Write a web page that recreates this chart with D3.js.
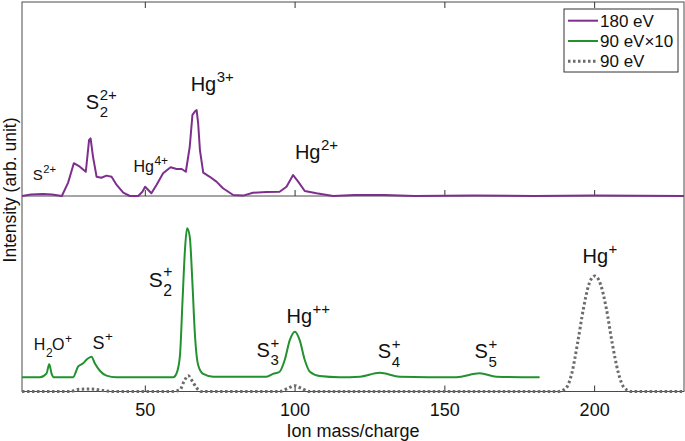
<!DOCTYPE html>
<html>
<head>
<meta charset="utf-8">
<script src="https://cdn.jsdelivr.net/npm/d3@7"></script>
<style>
  body { margin: 0; background: #fff; }
  svg text { font-family: "Liberation Sans", Arial, Helvetica, sans-serif; fill: #111; }
</style>
</head>
<body>
<script>
// 180 eV spectrum (upper panel)
var massTop = [9, 12, 16, 19, 22.3, 24.4, 26.3, 28.3, 30.3, 31.4, 31.9, 32.7, 33.9, 35.5, 37.2, 38.9, 40.6, 42.8, 45, 47.8,
  49.2, 50.1, 52.2, 53.9, 56.1, 58.6, 60.6, 62.3, 63.7, 65, 65.9, 66.7, 67.3, 67.8, 68.4, 69.5, 71.7, 73.9, 76.1, 79.5,
  82.8, 86.1, 90.6, 95, 97.3, 99.5, 101.2, 103.4, 107.3, 112.9, 120, 130, 140, 160, 180, 200, 230];
var int180 = [0, 0.8, 1.0, 0.8, 0, 6.9, 16.9, 15.1, 12.5, 28.9, 29.7, 20.3, 9.9, 9.4, 10.5, 9.9, 5.7, 1.7, 0, 0,
  2.2, 4.8, 1.4, 5.7, 11.7, 14.8, 13.9, 13.9, 12.5, 25.4, 41.8, 43.5, 44.3, 37.6, 23.7, 12.0, 9.9, 7.4, 4.0, 0.5,
  0.2, 1.7, 2.1, 2.2, 4.8, 10.8, 7.4, 2.6, 1.4, 0, 0.5, 0.5, 0, 0.2, 0, 0.2, 0];

// 90 eV x10 spectrum (lower panel, shown with an offset)
var massGreen = [9, 15, 17.2, 18.1, 18.9, 19.6, 26.1, 27, 27.7, 29.4, 30.7, 32.2, 33.3, 35, 37.2, 40.5, 59.5, 60.6, 61.7, 62.6,
  63.4, 64.1, 65, 65.9, 66.7, 67.8, 69.5, 72.8, 90.6, 92.8, 95, 96.7, 98.4, 100.1, 101.7, 103.4, 105.1, 108.4, 115, 121.8,
  128.4, 135.1, 154, 161.8, 167.4, 181.8];
var int90x10 = [7.3, 7.3, 9.3, 13.9, 9.0, 7.3, 7.3, 10.1, 12.7, 14.4, 16.5, 17.8, 14.4, 10.6, 8.1, 7.3, 7.3, 9.3, 17.8, 46.8,
  72.4, 83.5, 79.2, 55.3, 29.8, 13.6, 9.0, 7.6, 7.6, 9.0, 10.1, 16.1, 26.3, 30.6, 26.3, 16.1, 10.1, 7.9, 7.3, 7.6,
  9.6, 7.6, 7.3, 9.3, 7.6, 7.3];

// 90 eV spectrum (lower panel)
var massGray = [9, 25, 28, 32, 36, 40, 59, 61.7, 63, 64.5, 66, 67.3, 69, 95, 98, 100, 102, 105, 188, 190.5,
  192.5, 194.5, 196.5, 198.3, 200.2, 202.1, 204, 206, 208, 210, 212.5, 230];
var int90 = [0, 0, 1.1, 1.3, 0.5, 0, 0, 0.8, 4.9, 8.1, 4.9, 1.8, 0, 0, 1.8, 3.0, 1.8, 0, 0, 1.5,
  9, 25, 43, 55, 59.1, 55, 43, 25, 10, 2, 0, 0];

var xTicks = [50, 100, 150, 200];
var legendNames = ["180 eV", "90 eV\u00d710", "90 eV"];

// peak labels: TeX-like text anchored at (mass, intensity)
var topLabels = [
  { m: 12.6, v: 8.2, tex: "S^{2+}", size: 15 },
  { m: 30.3, v: 44.8, tex: "S_2^{2+}", size: 20 },
  { m: 46.2, v: 12.5, tex: "Hg^{4+}", size: 16 },
  { m: 65.3, v: 54.3, tex: "Hg^{3+}", size: 20 },
  { m: 100.1, v: 18.9, tex: "Hg^{2+}", size: 20 }
];
var bottomLabels = [
  { m: 12.95, v: 21.2, tex: "H_2O^+", size: 16 },
  { m: 32.5, v: 21.6, tex: "S^+", size: 18 },
  { m: 51.3, v: 53.6, tex: "S_2^+", size: 21 },
  { m: 87.3, v: 17.8, tex: "S_3^+", size: 20 },
  { m: 97.3, v: 34.9, tex: "Hg^{++}", size: 20 },
  { m: 127.8, v: 17.0, tex: "S_4^+", size: 20 },
  { m: 160.1, v: 17.0, tex: "S_5^+", size: 20 },
  { m: 196.1, v: 65.9, tex: "Hg^+", size: 20 }
];

var width = 685, height = 441;
var padL = 22, padR = 684, padT = 2, midY = 196, padB = 391.5;

var svg = d3.select("body").append("svg").attr("width", width).attr("height", height);

var x = d3.scaleLinear().domain([9, 230]).range([padL, padR]);
var yTop = d3.scaleLinear().domain([0, 100]).range([midY, padT]);
var yBot = d3.scaleLinear().domain([0, 100]).range([padB, midY]);

svg.append("clipPath").attr("id", "clip").append("rect")
  .attr("x", padL).attr("y", padT).attr("width", padR - padL).attr("height", padB - padT + 2);

// frame
svg.append("rect").attr("x", padL).attr("y", padT).attr("width", padR - padL).attr("height", padB - padT)
  .attr("fill", "none").attr("stroke", "#4a4a4a").attr("stroke-width", 1);
svg.append("line").attr("x1", padL).attr("x2", padR).attr("y1", midY).attr("y2", midY)
  .attr("stroke", "#4a4a4a").attr("stroke-width", 1);

function tickStyle(g) {
  g.select(".domain").remove();
  g.selectAll(".tick line").attr("stroke", "#333");
  g.selectAll(".tick text").attr("font-size", 18).attr("fill", "#111")
    .attr("font-family", "Liberation Sans, Arial, sans-serif");
}

svg.append("g").attr("transform", "translate(0," + padB + ")")
  .call(d3.axisBottom(x).tickValues(xTicks).tickSize(-6).tickPadding(12).tickFormat(d3.format("d")))
  .call(tickStyle);
svg.append("g").attr("transform", "translate(0," + midY + ")")
  .call(d3.axisBottom(x).tickValues(xTicks).tickSize(-6).tickFormat(""))
  .call(tickStyle);
svg.append("g").attr("transform", "translate(0," + padT + ")")
  .call(d3.axisTop(x).tickValues(xTicks).tickSize(-6).tickFormat(""))
  .call(tickStyle);

// axis titles
svg.append("text").attr("x", (padL + padR) / 2).attr("y", 437).attr("text-anchor", "middle")
  .attr("font-size", 18).text("Ion mass/charge");
svg.append("text").attr("transform", "translate(15.5,190) rotate(-90)").attr("text-anchor", "middle")
  .attr("font-size", 17.5).text("Intensity (arb. unit)");

// spectra
var plot = svg.append("g").attr("clip-path", "url(#clip)");

function series(ms, vs) {
  return ms.map(function (m, i) { return { m: m, v: vs[i] }; });
}

var lineTop = d3.line().x(function (d) { return x(d.m); }).y(function (d) { return yTop(d.v); });
var lineBot = d3.line().curve(d3.curveMonotoneX)
  .x(function (d) { return x(d.m); }).y(function (d) { return yBot(d.v); });

plot.append("path").datum(series(massGray, int90)).attr("d", lineBot)
  .attr("fill", "none").attr("stroke", "#6b6b6b").attr("stroke-width", 3).attr("stroke-dasharray", "2.5,2.5");
plot.append("path").datum(series(massGreen, int90x10)).attr("d", lineBot)
  .attr("fill", "none").attr("stroke", "#23912f").attr("stroke-width", 2).attr("stroke-linejoin", "round");
plot.append("path").datum(series(massTop, int180)).attr("d", lineTop)
  .attr("fill", "none").attr("stroke", "#7e2f8e").attr("stroke-width", 2).attr("stroke-linejoin", "round");

// tiny TeX-ish parser for labels like S_2^{2+}
function parseTex(s) {
  var tokens = [], i = 0;
  while (i < s.length) {
    var c = s[i];
    if (c === "_" || c === "^") {
      var t;
      if (s[i + 1] === "{") {
        var j = s.indexOf("}", i);
        t = s.slice(i + 2, j);
        i = j + 1;
      } else {
        t = s[i + 1];
        i += 2;
      }
      tokens.push({ t: t, k: c === "_" ? "sub" : "sup" });
    } else {
      var k = i;
      while (k < s.length && s[k] !== "_" && s[k] !== "^") k++;
      tokens.push({ t: s.slice(i, k), k: "n" });
      i = k;
    }
  }
  return tokens;
}

function drawLabel(d, yScale) {
  var g = svg.append("g");
  var cx = x(d.m), by = yScale(d.v);
  var prev = null;
  parseTex(d.tex).forEach(function (tk) {
    var small = d.size * 0.75;
    if (tk.k === "n") {
      var t = g.append("text").attr("x", cx).attr("y", by).attr("font-size", d.size).text(tk.t);
      cx += t.node().getComputedTextLength();
      prev = null;
    } else {
      var dy = tk.k === "sub" ? d.size * 0.42 : -d.size * 0.45;
      var sx = cx;
      if (prev && prev.k !== tk.k) sx = prev.x;
      var s = g.append("text").attr("x", sx + 0.5).attr("y", by + dy).attr("font-size", small).text(tk.t);
      var w = s.node().getComputedTextLength();
      if (prev && prev.k !== tk.k) {
        cx = prev.x + Math.max(prev.w, w);
        prev = null;
      } else {
        cx = sx + w;
        prev = { k: tk.k, x: sx, w: w };
      }
    }
  });
}

topLabels.forEach(function (d) { drawLabel(d, yTop); });
bottomLabels.forEach(function (d) { drawLabel(d, yBot); });

// legend
var leg = svg.append("g").attr("transform", "translate(564,9)");
leg.append("rect").attr("width", 114).attr("height", 63).attr("fill", "#fff")
  .attr("stroke", "#333").attr("stroke-width", 1);
var legStyles = [
  { c: "#7e2f8e", w: 2, dash: null },
  { c: "#23912f", w: 2, dash: null },
  { c: "#6b6b6b", w: 3, dash: "2.5,2.5" }
];
legendNames.forEach(function (name, i) {
  var yy = 11.7 + i * 20.3;
  leg.append("line").attr("x1", 4).attr("x2", 34).attr("y1", yy).attr("y2", yy)
    .attr("stroke", legStyles[i].c).attr("stroke-width", legStyles[i].w)
    .attr("stroke-dasharray", legStyles[i].dash);
  leg.append("text").attr("x", 36).attr("y", yy + 6).attr("font-size", 17).text(name);
});
</script>
</body>
</html>
